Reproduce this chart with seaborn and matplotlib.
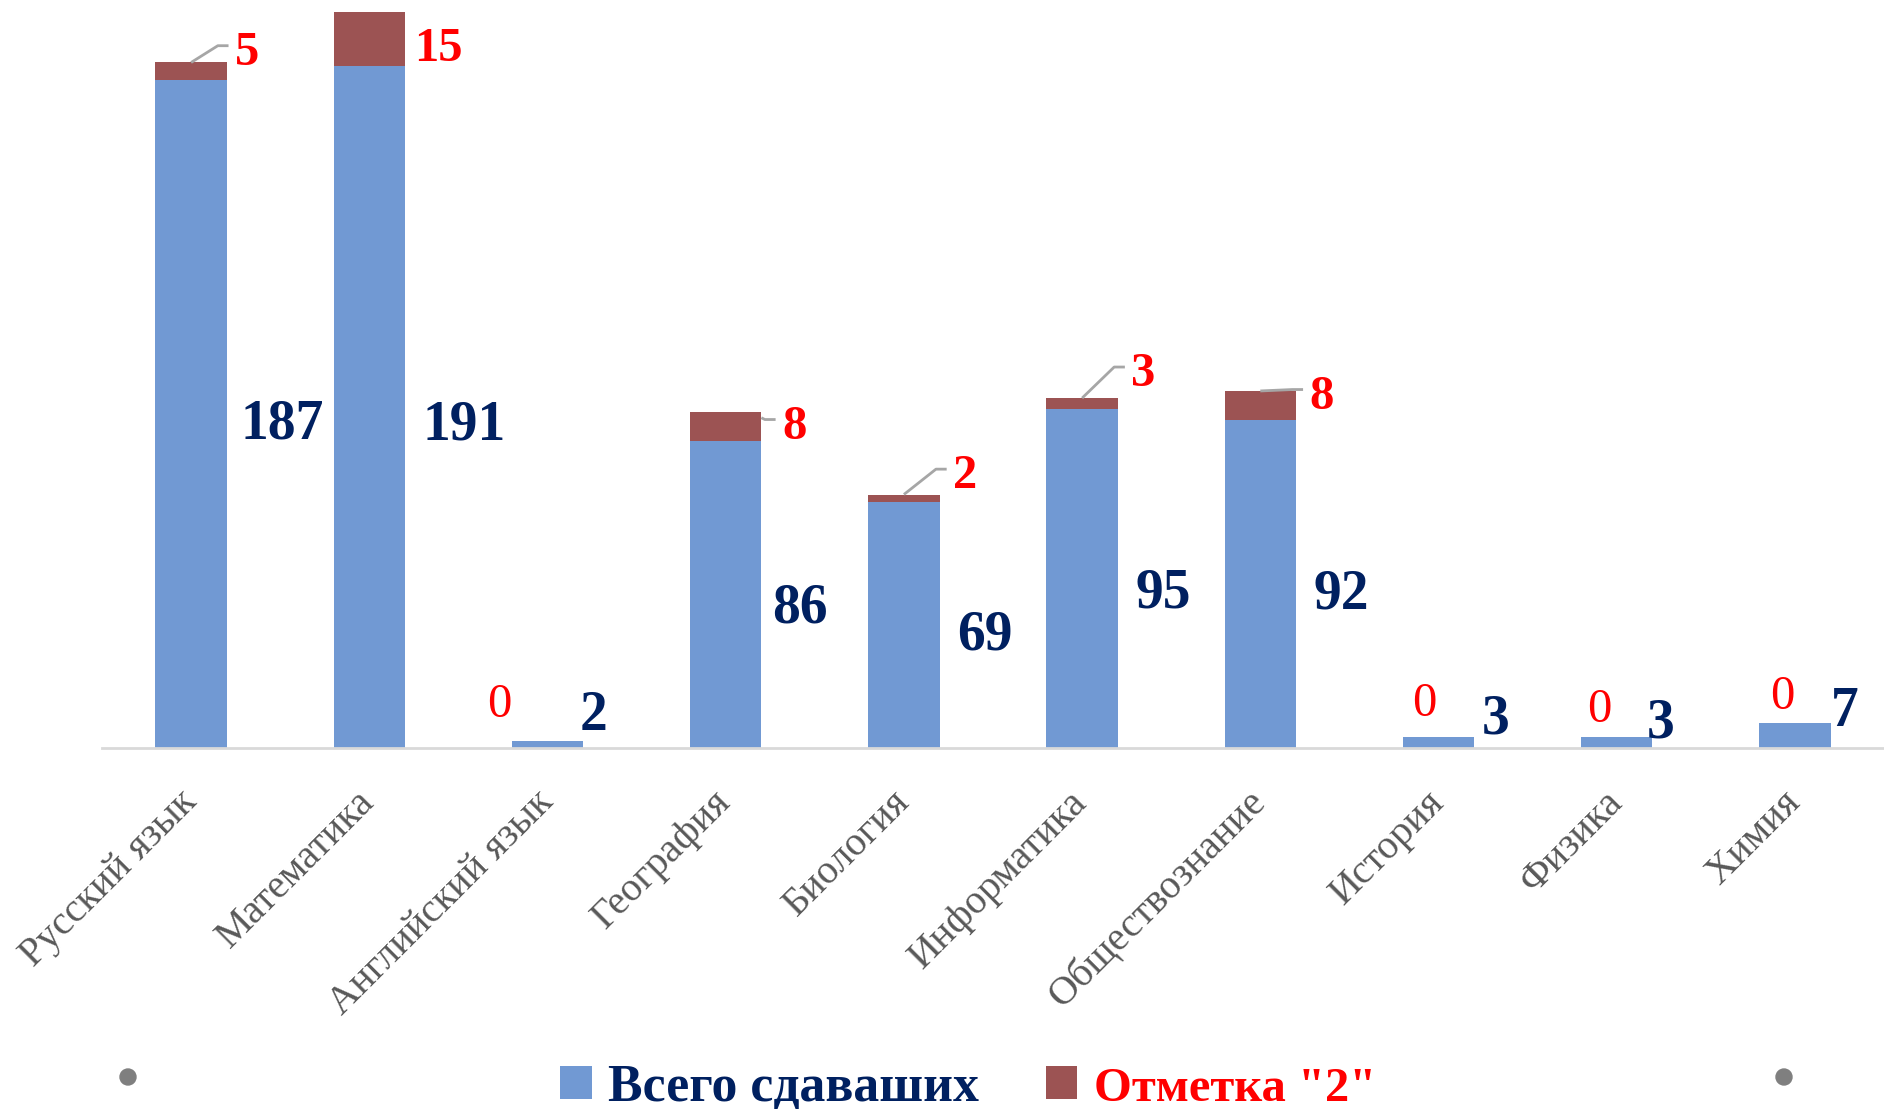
import matplotlib
matplotlib.use("Agg")
import matplotlib.pyplot as plt
from matplotlib.patches import Patch, Ellipse
import seaborn as sns
import pandas as pd

# ---- data ----
subjects = ["Русский язык", "Математика", "Английский язык", "География", "Биология",
            "Информатика", "Обществознание", "История", "Физика", "Химия"]
total_takers = [187, 191, 2, 86, 69, 95, 92, 3, 3, 7]
grade_two = [5, 15, 0, 8, 2, 3, 8, 0, 0, 0]
series_names = ["Всего сдаваших", 'Отметка "2"']

# ---- label layout (offsets in data units relative to bar) ----
blue_dx = [0.28, 0.30, 0.18, 0.26, 0.30, 0.30, 0.30, 0.24, 0.17, 0.20]
blue_dy = [-3.0, -5.3, 8.0, -4.0, -2.9, -4.1, -3.0, 6.5, 5.5, 6.5]
red_dx = [0.315, 0.39, -0.27, 0.385, 0.345, 0.345, 0.345, -0.08, -0.10, -0.07]
red_dy = [2.7, -10.2, 10.0, -4.0, 5.1, 6.7, -1.6, 9.4, 7.7, 7.4]
leader = [True, False, False, True, True, True, True, False, False, False]

BLUE = "#7199D3"
RED_BAR = "#9C5353"
NAVY = "#002060"
RED_TXT = "#FF0000"
SERIF = ["Liberation Serif", "DejaVu Serif"]

sns.set_style("white")
plt.rcParams["font.family"] = SERIF

df = pd.DataFrame({"subject": subjects, "total": total_takers, "fail": grade_two})
df["stack"] = df["total"] + df["fail"]

fig = plt.figure(figsize=(18.84, 11.09), dpi=100)
ax = fig.add_axes([102 / 1884, 1 - 748 / 1109, 1 - 102 / 1884, 748 / 1109])

sns.barplot(data=df, x="subject", y="stack", color=RED_BAR, width=0.4, ax=ax,
            saturation=1, edgecolor="none", linewidth=0)
sns.barplot(data=df, x="subject", y="total", color=BLUE, width=0.4, ax=ax,
            saturation=1, edgecolor="none", linewidth=0)

ax.set_xlim(-0.5, len(subjects) - 0.5)
ax.set_ylim(0, 209.5)
ax.set_xlabel("")
ax.set_ylabel("")
ax.set_yticks([])
for s in ["top", "left", "right"]:
    ax.spines[s].set_visible(False)
ax.spines["bottom"].set_color("#D9D9D9")
ax.spines["bottom"].set_linewidth(2)
ax.tick_params(axis="x", length=0, pad=35, labelsize=29, labelcolor="#595959")
for lab in ax.get_xticklabels():
    lab.set_rotation(45)
    lab.set_ha("right")
    lab.set_va("center")
    lab.set_rotation_mode("anchor")
    x0, y0 = lab.get_position()
    lab.set_x(x0 + 0.04)

# value labels
for i, (t, f) in enumerate(zip(total_takers, grade_two)):
    ax.text(i + blue_dx[i], t / 2 + blue_dy[i], str(t), ha="left", va="center",
            fontsize=40, fontweight="bold", color=NAVY)
    top = t + f
    cy = top + red_dy[i]
    if f > 0:
        ax.text(i + red_dx[i], cy, str(f), ha="center", va="center",
                fontsize=35, fontweight="bold", color=RED_TXT)
    else:
        ax.text(i + red_dx[i], cy, str(f), ha="center", va="center",
                fontsize=35, color=RED_TXT)
    if leader[i]:
        left = i + red_dx[i] - 0.065
        ly = cy + 2.0
        if cy >= top - 2.5:
            sx, sy = i, top
        else:
            sx, sy = i + 0.2, top - 1.5
        mx = max(left - 0.1, sx)
        ax.plot([sx, mx, left - 0.04], [sy, ly, ly], color="#A6A6A6", lw=2,
                solid_capstyle="butt", zorder=5)

# legend
handles = [Patch(facecolor=BLUE, edgecolor="none"), Patch(facecolor=RED_BAR, edgecolor="none")]
leg = fig.legend(handles, series_names, loc="center", bbox_to_anchor=(0.514, 0.019),
                 ncol=2, frameon=False, prop={"family": SERIF, "weight": "bold", "size": 37.3},
                 handlelength=0.6, handleheight=0.6, handletextpad=0.32, columnspacing=1.3,
                 borderpad=0)
texts = leg.get_texts()
texts[0].set_color(NAVY)
texts[1].set_color(RED_TXT)
texts[1].set_fontsize(35)

# selection handles
for xpix in (128, 1784):
    fig.add_artist(Ellipse((xpix / 1884, 1 - 1077 / 1109), 16 / 1884, 16 / 1109,
                           transform=fig.transFigure, color="#7F7F7F"))

fig.savefig("out.png", dpi=100)
